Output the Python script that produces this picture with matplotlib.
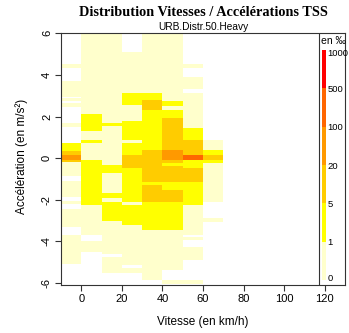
import matplotlib
matplotlib.use("Agg")
import matplotlib.pyplot as plt
from matplotlib.colors import ListedColormap, BoundaryNorm

plt.rcParams['font.family'] = ['Liberation Sans', 'DejaVu Sans']

# speed classes (km/h), each column is 10 km/h wide, left edge given
speed_left = [-10, 0, 10, 20, 30, 40, 50, 60]
bin_width = 10

# per speed class: (acc low, acc high, share in per mille)
col_m10 = [(4.32, 4.52, 0.5), (2.95, 3.71, 0.5), (2.75, 2.88, 0.5), (2.45, 2.65, 0.5),
           (1.49, 1.69, 0.5), (0.32, 0.72, 3), (0.16, 0.32, 10), (-0.08, 0.16, 50),
           (-0.2, -0.08, 10), (-0.88, -0.2, 0.5), (-1.85, -1.1, 0.5), (-2.2, -2.05, 0.5),
           (-3.3, -2.45, 0.5), (-5.1, -3.7, 0.5)]
col_0 = [(2.12, 6.0, 0.5), (1.32, 2.12, 3), (0.89, 1.32, 0.5), (0.73, 0.89, 3),
         (-0.08, 0.73, 0.5), (-2.25, -0.08, 3), (-3.7, -2.25, 0.5), (-4.5, -4.0, 0.5)]
col_10 = [(1.68, 6.0, 0.5), (1.52, 1.68, 3), (-0.32, 1.52, 0.5), (-0.72, -0.32, 3),
          (-1.69, -0.72, 0.5), (-1.9, -1.69, 3), (-2.1, -1.9, 0.5), (-3.0, -2.1, 3),
          (-4.6, -3.0, 0.5), (-5.5, -4.75, 0.5)]
col_20 = [(3.15, 5.12, 0.5), (2.57, 3.15, 3), (1.77, 2.57, 0.5), (0.89, 1.77, 3),
          (0.73, 0.89, 0.5), (0.16, 0.73, 3), (-0.48, 0.16, 10), (-2.1, -0.48, 3),
          (-2.25, -2.1, 0.5), (-3.2, -2.25, 3), (-5.14, -3.2, 0.5), (-5.5, -5.27, 0.5)]
col_30 = [(3.15, 6.0, 0.5), (2.81, 3.15, 3), (2.33, 2.81, 10), (0.40, 2.33, 3),
          (-1.13, 0.40, 10), (-1.29, -1.13, 3), (-2.09, -1.29, 10), (-3.45, -2.09, 3),
          (-5.87, -3.45, 0.5)]
col_40 = [(2.75, 6.0, 0.5), (2.5, 2.75, 3), (2.33, 2.5, 0.5), (1.93, 2.33, 3),
          (0.40, 1.93, 10), (-0.08, 0.40, 50), (-0.24, -0.08, 10), (-0.4, -0.24, 3),
          (-1.13, -0.4, 10), (-1.53, -1.13, 3), (-2.09, -1.53, 10), (-3.45, -2.09, 3),
          (-5.38, -3.45, 0.5), (-6.05, -5.87, 0.5)]
col_50 = [(4.32, 4.52, 0.5), (3.31, 3.9, 0.5), (1.44, 3.15, 0.5), (0.88, 1.44, 3),
          (0.16, 0.88, 10), (-0.08, 0.16, 200), (-0.48, -0.08, 3), (-1.13, -0.48, 10),
          (-2.25, -1.13, 3), (-3.7, -2.25, 0.5), (-3.95, -3.8, 0.5), (-4.9, -4.25, 0.5),
          (-6.05, -5.87, 0.5)]
col_60 = [(0.4, 0.88, 0.5), (0.16, 0.4, 3), (-0.08, 0.16, 10), (-0.24, -0.08, 3),
          (-2.09, -0.24, 0.5), (-3.05, -2.89, 0.5)]

columns = [col_m10, col_0, col_10, col_20, col_30, col_40, col_50, col_60]

levels = [0, 1, 5, 20, 100, 500, 1000]
level_colors = ['#FFFFCC', '#FFFF00', '#FFCC00', '#FF9900', '#FF6600', '#FF0000']

cmap = ListedColormap(level_colors)
norm = BoundaryNorm(levels, cmap.N)

fig = plt.figure(figsize=(3.49, 3.33), dpi=100)
ax = fig.add_axes([61 / 349, 1 - 285 / 333, 284 / 349, 251.7 / 333])

for x0, cells in zip(speed_left, columns):
    for lo, hi, v in cells:
        ax.bar(x0, hi - lo, bottom=lo, width=bin_width, align='edge',
               color=cmap(norm(v)), linewidth=0)

ax.set_xlim(-10, 130)
ax.set_ylim(-6.1, 6.0)
ax.set_xticks(range(0, 121, 20))
ax.set_yticks(range(-6, 7, 2))
ax.set_yticklabels([str(v) for v in range(-6, 7, 2)], rotation=90, va='center')
ax.tick_params(direction='out', length=4, width=0.8, labelsize=8, pad=2.5,
               color='#333333')
for s in ax.spines.values():
    s.set_linewidth(0.8)
    s.set_color('#333333')

# separator for the legend strip
ax.axvline(117.3, color='#333333', linewidth=0.8)

fig.text(203 / 349, 1 - 12 / 333, 'Distribution Vitesses / Accélérations TSS',
         ha='center', va='center', fontsize=10.3, fontweight='bold',
         family=['Liberation Serif', 'DejaVu Serif'])
fig.text(203 / 349, 1 - 27 / 333, 'URB.Distr.50.Heavy', ha='center', va='center',
         fontsize=7.3)
fig.text(203 / 349, 1 - 322 / 333, 'Vitesse (en km/h)', ha='center', va='center',
         fontsize=8.5)
fig.text(21.7 / 349, 1 - 156 / 333, 'Accélération (en m/s²)', ha='center',
         va='center', rotation=90, fontsize=8.5)

# legend strip: one equal-height block per class
cax = fig.add_axes([321.7 / 349, 1 - 280 / 333, 4.3 / 349, 230 / 333])
n_cls = len(level_colors)
cax.bar([0] * n_cls, [1] * n_cls, bottom=range(n_cls), width=1, align='edge',
        color=[cmap(norm(0.5 * (a + b))) for a, b in zip(levels[:-1], levels[1:])],
        linewidth=0)
cax.set_xlim(0, 1)
cax.set_ylim(0, n_cls)
cax.set_xticks([])
cax.yaxis.tick_right()
cax.set_yticks([0.07, 1, 2, 3, 4, 5, 5.93])
cax.set_yticklabels([str(v) for v in levels])
cax.tick_params(length=0, labelsize=6.8, pad=1)
for s in cax.spines.values():
    s.set_visible(False)
fig.text(333 / 349, 1 - 41 / 333, 'en ‰', ha='center', va='center', fontsize=7.5)

fig.savefig('out.png', dpi=100)
